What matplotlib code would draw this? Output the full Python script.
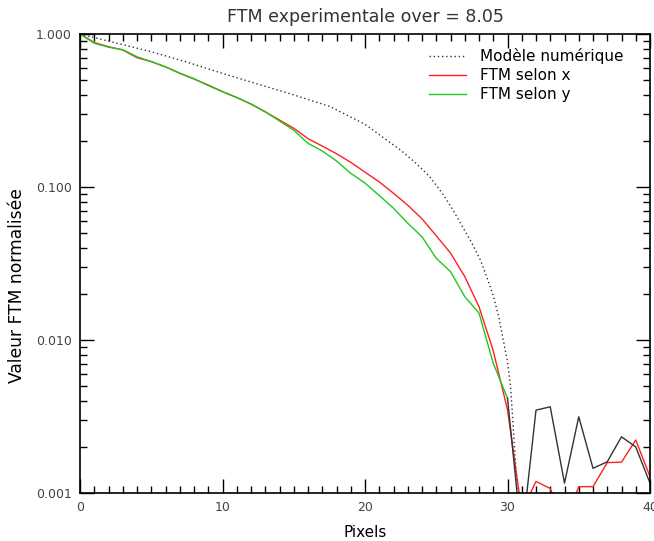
import numpy as np
import matplotlib
matplotlib.use('Agg')
import matplotlib.pyplot as plt
from matplotlib.ticker import FixedLocator, LogLocator, MultipleLocator, NullFormatter

# Modèle numérique (courbe pointillée)
x_modele = [0, 2.5, 5, 7.5, 10, 12.5, 15, 17.5, 20, 22.5, 23.5, 24.5, 25.5, 26.2,
            26.7, 27.5, 28.1, 28.6, 29.0, 29.4, 29.75, 30.0, 30.22, 30.46, 30.7]
y_modele = [1.0, 0.875, 0.766, 0.655, 0.553, 0.47, 0.40, 0.337, 0.257, 0.174, 0.145,
            0.118, 0.089, 0.070, 0.058, 0.043, 0.0333, 0.025, 0.0195, 0.014, 0.0095,
            0.0072, 0.00495, 0.0022, 0.001]

# FTM mesurée
pixels = np.arange(0, 41)
ftm_x = [1.0, 0.88, 0.826, 0.786, 0.70, 0.66, 0.61, 0.553, 0.508, 0.464, 0.42,
         0.384, 0.349, 0.31, 0.274, 0.242, 0.207, 0.185, 0.165, 0.145, 0.125,
         0.108, 0.091, 0.076, 0.062, 0.048, 0.037, 0.026, 0.0165, 0.0085, 0.0035,
         0.00076, 0.00119, 0.00107, 0.00063, 0.0011, 0.0011, 0.00158, 0.00159,
         0.00222, 0.00128]
ftm_y = [1.0, 0.87, 0.82, 0.79, 0.71, 0.66, 0.61, 0.555, 0.51, 0.46, 0.42,
         0.385, 0.348, 0.31, 0.27, 0.235, 0.193, 0.172, 0.148, 0.123, 0.106,
         0.088, 0.0726, 0.058, 0.0473, 0.0342, 0.028, 0.0192, 0.015, 0.00705,
         0.00416]
# suite de la FTM y au-delà de la coupure (tracée en gris foncé)
x_bruit = np.arange(30, 41)
y_bruit = [0.00416, 0.0005, 0.00348, 0.00366, 0.00116, 0.00315, 0.00145, 0.0016,
           0.00233, 0.0020, 0.00116]

fig = plt.figure(figsize=(6.54, 5.41), dpi=100)
ax = fig.add_axes([80 / 654, 1 - 493 / 541, 570 / 654, 459 / 541])

ax.plot(x_modele, y_modele, linestyle=(0, (1, 2)), color='#333333', linewidth=1.0,
        label='Modèle numérique')
ax.plot(pixels, ftm_x, color='#ff2020', linewidth=1.0, label='FTM selon x')
ax.plot(pixels[:len(ftm_y)], ftm_y, color='#1ec81e', linewidth=1.0, label='FTM selon y')
ax.plot(x_bruit, y_bruit, color='#333333', linewidth=1.0)

ax.set_yscale('log')
ax.set_xlim(0, 40)
ax.set_ylim(0.001, 1.0)
ax.xaxis.set_major_locator(MultipleLocator(10))
ax.xaxis.set_minor_locator(MultipleLocator(1))
ax.yaxis.set_major_locator(FixedLocator([0.001, 0.01, 0.1, 1.0]))
ax.yaxis.set_minor_locator(LogLocator(base=10, subs=np.arange(2, 10)))
ax.yaxis.set_minor_formatter(NullFormatter())
ax.set_yticklabels(['0.001', '0.010', '0.100', '1.000'])

ax.tick_params(which='both', direction='in', top=True, right=True, labelsize=9,
               labelcolor='#444444', width=1)
ax.tick_params(which='major', length=10, pad=6)
ax.tick_params(which='minor', length=5)
for s in ax.spines.values():
    s.set_linewidth(1.2)

ax.set_xlabel('Pixels', fontsize=11, labelpad=8)
ax.set_ylabel('Valeur FTM normalisée', fontsize=12.3)
ax.yaxis.set_label_coords(-0.094, 0.453)
ax.set_title('FTM experimentale over = 8.05', fontsize=12.5, color='#333333', pad=9)

ax.legend(loc='upper right', bbox_to_anchor=(0.977, 0.999), frameon=False, fontsize=11,
          handlelength=2.4, handletextpad=0.9, labelspacing=0.25)

fig.savefig('out.png', dpi=100)
